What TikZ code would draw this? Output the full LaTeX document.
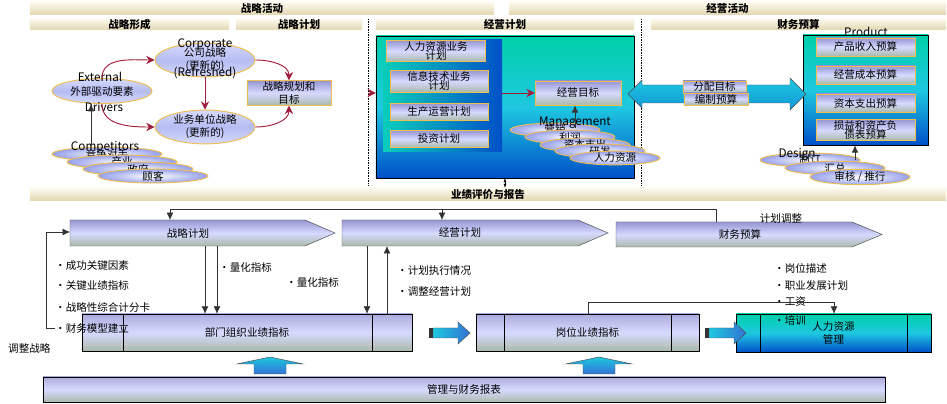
\documentclass[tikz,border=0pt]{standalone}
\usepackage{fontspec}
\setmainfont{Noto Sans CJK SC}
\usepackage{tikz}
\usetikzlibrary{arrows.meta,positioning,shapes.geometric,calc}
\definecolor{barhi}{RGB}{253,250,238}
\definecolor{barlo}{RGB}{226,214,176}
\definecolor{boxhi}{RGB}{150,150,210}
\definecolor{boxmid}{RGB}{214,218,255}
\definecolor{boxlo}{RGB}{170,185,170}
\definecolor{tealhi}{RGB}{0,208,170}
\definecolor{tealmid}{RGB}{30,200,225}
\definecolor{teallo}{RGB}{0,80,200}
\definecolor{ellrim}{RGB}{240,190,80}
\definecolor{ellin}{RGB}{150,160,235}
\definecolor{wine}{RGB}{160,30,60}
\tikzset{
  bar/.style={top color=barhi,bottom color=barlo,inner sep=0pt,font=\bfseries\small},
  bluebox/.style={draw=ellrim,top color=boxhi,bottom color=boxlo,middle color=boxmid,align=center,inner sep=1pt,font=\small},
  plainbox/.style={draw=black,top color=boxhi!80,bottom color=boxlo,middle color=boxmid,align=center,inner sep=1pt,font=\small},
  tealbox/.style={draw=black,top color=tealhi,bottom color=teallo,middle color=tealmid,inner sep=0pt},
  chevfill/.style={draw=black!70,top color=boxhi,bottom color=boxlo,middle color=boxmid},
  chev/.style={font=\small,minimum height=0.78cm,inner sep=0pt},
  oval/.style={ellipse,draw=ellrim,thick,top color=boxmid,bottom color=boxmid,middle color=ellin!70,align=center,font=\small,inner sep=0pt},
  cloud/.style={ellipse,draw=ellrim,thick,inner color=white,outer color=ellin,minimum width=3.3cm,minimum height=0.36cm,inner sep=0pt,font=\small},
  note/.style={font=\small,anchor=west,inner sep=0pt},
  ghost/.style={inner sep=0pt},
  arr/.style={-{Latex[length=2.2mm,width=2mm]},black!80},
  warr/.style={-{Stealth[length=2.5mm,width=2.5mm]},wine,thick},
  blockarr/.style={draw=black!70,top color=tealmid,bottom color=teallo!80}
}
\begin{document}
\begin{tikzpicture}[x=0.03cm,y=-0.03cm]
\useasboundingbox (0,0) rectangle (947,404);
% header bars
\node[bar,minimum width=13.92cm,minimum height=0.39cm] (actS) at (262,8.5) {战略活动};
\node[bar,minimum width=13.11cm,minimum height=0.39cm] (actB) at (727.5,8.5) {经营活动};
\node[bar,minimum width=5.97cm,minimum height=0.33cm] (form) at (129.5,24.5) {战略形成};
\node[bar,minimum width=3.78cm,minimum height=0.33cm] (splan) at (299,24.5) {战略计划};
\node[bar,minimum width=7.74cm,minimum height=0.33cm] (oplan) at (505,24.5) {经营计划};
\node[bar,minimum width=8.85cm,minimum height=0.33cm] (budg) at (798.5,24.5) {财务预算};
\draw[densely dotted] (368,19) -- (368,185);
\draw[densely dotted] (641,19) -- (641,185);

% strategy formation
\node[oval,minimum width=3cm,minimum height=0.9cm] (corp) at (205,60) {公司战略\\(更新的)};
\node[ghost] (corpT) at (205,44) {Corporate};
\node[ghost] (corpR) at (205,73) {(Refreshed)};
\node[oval,minimum width=3cm,minimum height=0.75cm] (ext) at (102,91) {外部驱动要素};
\node[ghost] (extT) at (100,77) {External};
\node[ghost] (extB) at (104,107) {Drivers};
\node[oval,minimum width=3cm,minimum height=0.84cm] (unit) at (205,127) {业务单位战略\\(更新的)};
\node[bluebox,minimum width=2.52cm,minimum height=0.75cm] (goalS) at (289,93) {战略规划和\\目标};
\foreach \n/\x/\y/\t in {c1/107/154/竞争对手,c2/122/162/产业,c3/138/169/政府,c4/153/176/顾客}
  \node[cloud] (\n) at (\x,\y) {\t};
\node[ghost] (compT) at (105,147) {Competitors};
\draw[warr] (ext.north) to[out=90,in=180] (corp.west);
\draw[warr] (ext.south) to[out=-90,in=180] (unit.west);
\draw[warr] (corp.south) -- (unit.north);
\draw[warr] (corp.east) to[out=0,in=90] (goalS.north);
\draw[warr] (unit.east) to[out=0,in=-90] (goalS.south);
\draw[arr,thick] (91,146) -- (ext.south -| 91,0);

% operating plan
\node[tealbox,minimum width=7.74cm,minimum height=4.26cm] (opbox) at (505,107) {};
\node[inner sep=0pt,left color=tealhi!70!tealmid,right color=teallo,minimum width=3.57cm,minimum height=3.36cm] (panel) at (442.5,96) {};
\node[bluebox,minimum width=2.97cm,minimum height=0.57cm] (hrp) at (436,51) {人力资源业务\\[-3pt]计划};
\node[bluebox,minimum width=2.94cm,minimum height=0.54cm] (itp) at (439,81) {信息技术业务\\[-3pt]计划};
\node[bluebox,minimum width=2.94cm,minimum height=0.51cm] (prp) at (439,112) {生产运营计划};
\node[bluebox,minimum width=2.94cm,minimum height=0.51cm] (inp) at (439,139) {投资计划};
\node[bluebox,minimum width=2.58cm,minimum height=0.72cm] (goalB) at (578,93) {经营目标};
\foreach \n/\x/\y/\t in {m1/555/130/营销,m2/570/137/利润,m3/585/145/资本支出,m4/600/151/研发,m5/615/158/人力资源}
  \node[cloud,minimum width=2.7cm] (\n) at (\x,\y) {\t};
\node[ghost] (mgT) at (575,123) {Management};
\draw[warr] (goalS.east -| 368,0) -- (opbox.west |- goalS.east);
\draw[warr] (panel.east |- goalB.west) -- (goalB.west);
\draw[arr,thick] (575,128) -- (goalB.south -| 575,0);

% financial budget
\node[tealbox,minimum width=3.75cm,minimum height=3.3cm] (finbox) at (865.5,90) {};
\node[ghost] (prodT) at (866,32) {Product};
\foreach \n/\y/\t in {f1/47/产品收入预算,f2/75/经营成本预算,f3/103/资本支出预算}
  \node[bluebox,minimum width=2.97cm,minimum height=0.54cm] (\n) at (865.5,\y) {\t};
\node[bluebox,minimum width=2.97cm,minimum height=0.6cm] (f4) at (865.5,130) {损益和资产负\\[-3pt]债表预算};
\draw[blockarr,top color=tealmid,bottom color=tealmid!60!teallo] (628,94) -- (642,80) -- (642,85) -- (790,85) -- (790,78) -- (806,94) -- (790,110) -- (790,103) -- (642,103) -- (642,108) -- cycle;
\node[bluebox,minimum width=1.9cm,minimum height=0.36cm] (dist) at (714.5,87) {分配目标};
\node[bluebox,minimum width=1.92cm,minimum height=0.36cm] (prep) at (716,99) {编制预算};
\node[cloud,minimum width=3cm] (d1) at (810,160) {制订};
\node[cloud,minimum width=3cm] (d2) at (835,168) {汇总};
\node[cloud,minimum width=3cm] (d3) at (860,177) {审核 / 推行};
\node[ghost] (desT) at (797,154) {Design};
\draw[arr,thick] (855,160) -- (finbox.south -| 855,0);

% performance bar
\node[bar,minimum width=27.48cm,minimum height=0.39cm] (perf) at (488,194.5) {业绩评价与报告};
\draw[{Latex[length=1.2mm]}-{Latex[length=1.2mm]}] (opbox.south) -- (perf.north -| opbox.south);

% lower part
\draw[chevfill] (70,220) -- (305,220) -- (335,233) -- (305,246) -- (70,246) -- cycle;
\node[chev] (sc) at (188,233) {战略计划};
\draw[chevfill] (342,220) -- (578,220) -- (608,233) -- (578,246) -- (342,246) -- cycle;
\node[chev] (oc) at (460,233) {经营计划};
\draw[chevfill] (616,222) -- (852,222) -- (882,234.5) -- (852,247) -- (616,247) -- cycle;
\node[chev] (fc) at (740,234.5) {财务预算};
\coordinate (fbR) at (716,209);
\draw[arr] (fbR |- 0,222) -- (fbR) -| (170,220);
\draw[arr] (fbR -| 442,0) -- (442,220);
\node[font=\small] (adjP) at (781,218) {计划调整};

\node[plainbox,minimum width=9.9cm,minimum height=1.11cm] (dept) at (247,332.5) {部门组织业绩指标};
\draw (123,314) -- (123,351) (372,314) -- (372,351);
\node[plainbox,minimum width=6.69cm,minimum height=1.11cm] (post) at (587.5,332.5) {岗位业绩指标};
\draw (504,314) -- (504,351) (671,314) -- (671,351);
\node[tealbox,minimum width=5.85cm,minimum height=1.14cm,align=center,font=\small] (hrm) at (833.5,333) {人力资源\\管理};
\draw (760,314) -- (760,352) (907,314) -- (907,352);
\node[plainbox,minimum width=25.26cm,minimum height=0.75cm] (rep) at (464,389.5) {管理与财务报表};

\node[note] (k1) at (55,266) {•成功关键因素};
\node[note] (k2) at (55,286) {•关键业绩指标};
\node[note] (k3) at (55,307) {•战略性综合计分卡};
\node[note] (k4) at (55,328) {•财务模型建立};
\node[note] (adjS) at (8,348) {调整战略};
\draw[arr] (k4.west) -| (46,232) -- (70,232);
\draw[arr] (205,246) -- (dept.north -| 205,0);
\draw[arr] (217,246) -- (dept.north -| 217,0);
\node[note] (q1) at (219,267) {•量化指标};
\node[note] (q2) at (286,282) {•量化指标};
\draw[arr] (367,246) -- (dept.north -| 367,0);
\draw[arr] (dept.north -| 387,0) -- (387,246);
\node[note] (e1) at (397,271) {•计划执行情况};
\node[note] (e2) at (397,292) {•调整经营计划};
\node[note] (h1) at (774,268) {•岗位描述};
\node[note] (h2) at (774,285) {•职业发展计划};
\node[note] (h3) at (774,302) {•工资};
\node[note] (h4) at (774,320) {•培训};
\draw[arr] (post.north -| 588,0) |- (834,302) -- (hrm.north -| 834,0);

% block arrows
\foreach \x in {429,705}{
  \fill[black!80] (\x,328) rectangle ++(4,10);
  \draw[blockarr,left color=tealmid,right color=teallo!80] (\x+4,328) -- (\x+29,328) -- (\x+29,322) -- (\x+41,333) -- (\x+29,344) -- (\x+29,338) -- (\x+4,338) -- cycle;
}
\foreach \x in {270,599}{
  \draw[blockarr] (\x-16,374) -- (\x-16,364) -- (\x-33,364) -- (\x,357) -- (\x+33,364) -- (\x+16,364) -- (\x+16,374) -- cycle;
}
\end{tikzpicture}
\end{document}
